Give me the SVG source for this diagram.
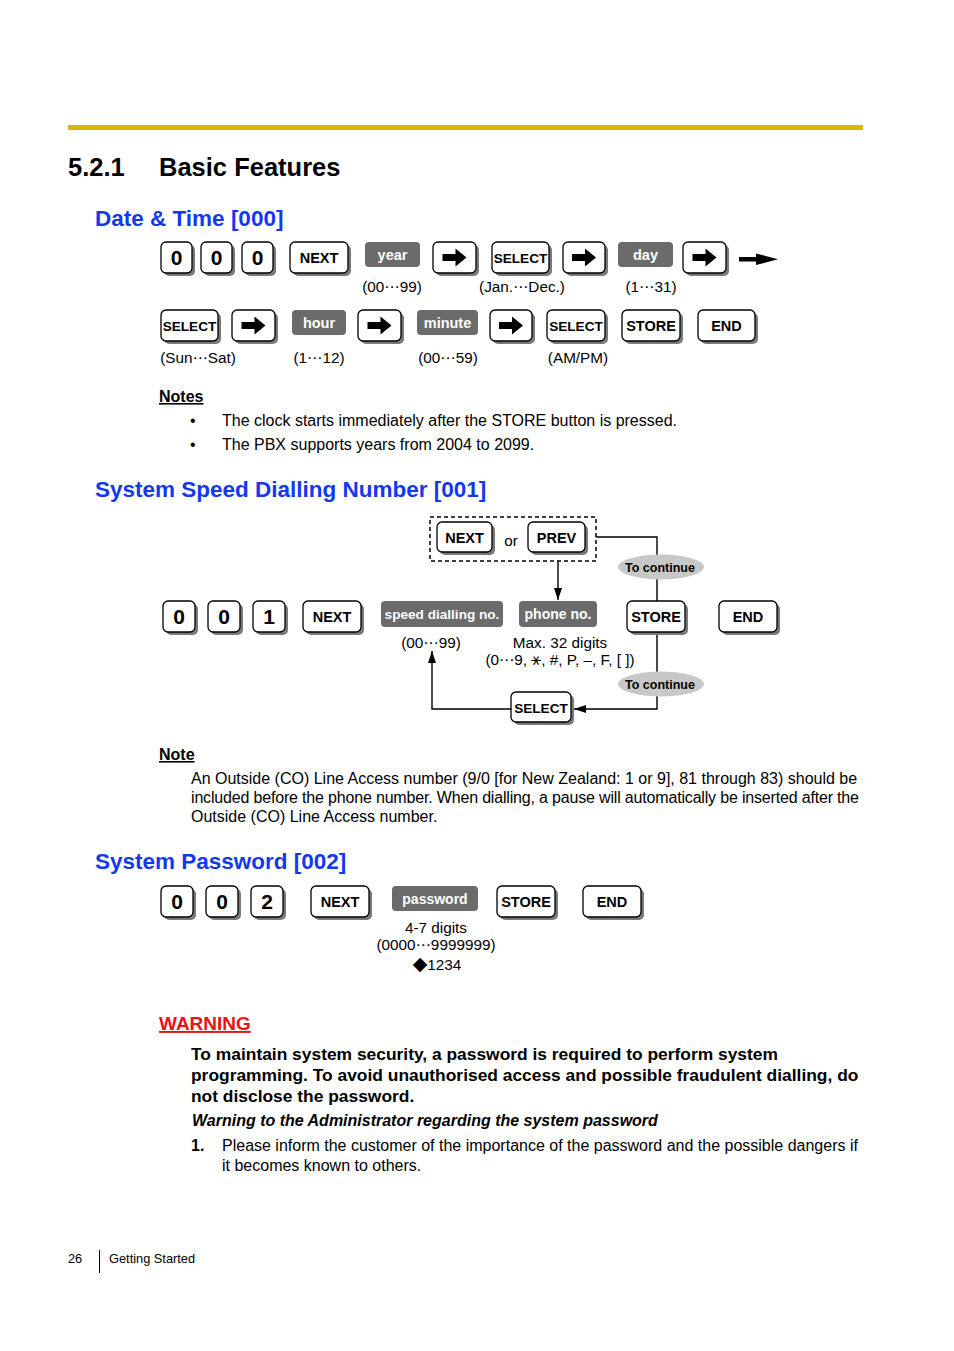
<svg xmlns="http://www.w3.org/2000/svg" width="954" height="1351" viewBox="0 0 954 1351">
<style>
text{font-family:"Liberation Sans",Arial,"DejaVu Sans",sans-serif;fill:#000}
.sh{fill:#7a7a7a}
.kb{fill:#fff;stroke:#000;stroke-width:1.3}
.kt{font-weight:bold;font-size:14.5px;text-anchor:middle}
.ks{font-weight:bold;font-size:13.6px;text-anchor:middle}
.kd{font-weight:bold;font-size:21px;text-anchor:middle}
.gb{fill:#6b6b6b}
.gt{font-weight:bold;font-size:14.5px;fill:#fff;text-anchor:middle}
.lab{font-size:15.3px;text-anchor:middle}
.body{font-size:16px}
.h1{font-weight:bold;font-size:25.5px}
.h2{font-weight:bold;font-size:22.5px;fill:#1238f0}
.ln{fill:none;stroke:#000;stroke-width:1.4}
.el{fill:#c8c8c8}
.et{font-weight:bold;font-size:12.5px;text-anchor:middle}
.wb{font-weight:bold;font-size:17.4px}
</style>
<defs>
<path id="arr" d="M-12,-3.5H1V-9L12,0L1,9V3.5H-12Z" fill="#000"/>
<marker id="ah" viewBox="0 0 12 8" refX="12" refY="4" markerWidth="12" markerHeight="8" markerUnits="userSpaceOnUse" orient="auto"><path d="M0,0L12,4L0,8Z" fill="#000"/></marker>
</defs>

<rect x="68" y="125" width="795" height="5" fill="#dfb400"/>
<text class="h1" x="68" y="176">5.2.1</text>
<text class="h1" x="159" y="176">Basic Features</text>

<text class="h2" x="95" y="226">Date &amp; Time [000]</text>

<g id="dt-row1">
<g id="k-0a"><rect class="sh" x="164" y="245" width="31" height="31" rx="5"/><rect class="kb" x="161" y="242" width="31" height="31" rx="5"/><text class="kd" x="176.5" y="265">0</text></g>
<g id="k-0b"><rect class="sh" x="204" y="245" width="31" height="31" rx="5"/><rect class="kb" x="201" y="242" width="31" height="31" rx="5"/><text class="kd" x="216.5" y="265">0</text></g>
<g id="k-0c"><rect class="sh" x="245" y="245" width="31" height="31" rx="5"/><rect class="kb" x="242" y="242" width="31" height="31" rx="5"/><text class="kd" x="257.5" y="265">0</text></g>
<g id="k-next1"><rect class="sh" x="293" y="245" width="58" height="31" rx="5"/><rect class="kb" x="290" y="242" width="58" height="31" rx="5"/><text class="kt" x="319" y="263">NEXT</text></g>
<g id="b-year"><rect class="gb" x="365" y="242" width="55" height="25" rx="4"/><text class="gt" x="392.5" y="260">year</text></g>
<g id="k-arr1"><rect class="sh" x="436" y="245" width="43" height="31" rx="5"/><rect class="kb" x="433" y="242" width="43" height="31" rx="5"/><use href="#arr" x="454.5" y="257.5"/></g>
<g id="k-sel1"><rect class="sh" x="495" y="245" width="57" height="31" rx="5"/><rect class="kb" x="492" y="242" width="57" height="31" rx="5"/><text class="ks" x="520.5" y="263">SELECT</text></g>
<g id="k-arr2"><rect class="sh" x="566" y="245" width="42" height="31" rx="5"/><rect class="kb" x="563" y="242" width="42" height="31" rx="5"/><use href="#arr" x="584" y="257.5"/></g>
<g id="b-day"><rect class="gb" x="618" y="242" width="55" height="25" rx="4"/><text class="gt" x="645.5" y="260">day</text></g>
<g id="k-arr3"><rect class="sh" x="686" y="245" width="43" height="31" rx="5"/><rect class="kb" x="683" y="242" width="43" height="31" rx="5"/><use href="#arr" x="704.5" y="257.5"/></g>
<g id="cont-arrow"><rect x="739" y="257" width="20" height="4.5" fill="#000"/><path d="M756,253.5L778,259.25L756,265Z" fill="#000"/></g>
<text class="lab" x="392" y="292">(00⋯99)</text>
<text class="lab" x="522" y="292">(Jan.⋯Dec.)</text>
<text class="lab" x="651" y="292">(1⋯31)</text>
</g>

<g id="dt-row2">
<g id="k-sel2"><rect class="sh" x="164" y="313" width="57" height="31" rx="5"/><rect class="kb" x="161" y="310" width="57" height="31" rx="5"/><text class="ks" x="189.5" y="331">SELECT</text></g>
<g id="k-arr4"><rect class="sh" x="235" y="313" width="43" height="31" rx="5"/><rect class="kb" x="232" y="310" width="43" height="31" rx="5"/><use href="#arr" x="253.5" y="325.5"/></g>
<g id="b-hour"><rect class="gb" x="292" y="310" width="54" height="25" rx="4"/><text class="gt" x="319" y="328">hour</text></g>
<g id="k-arr5"><rect class="sh" x="361" y="313" width="43" height="31" rx="5"/><rect class="kb" x="358" y="310" width="43" height="31" rx="5"/><use href="#arr" x="379.5" y="325.5"/></g>
<g id="b-minute"><rect class="gb" x="417" y="310" width="61" height="25" rx="4"/><text class="gt" x="447.5" y="328">minute</text></g>
<g id="k-arr6"><rect class="sh" x="493" y="313" width="42" height="31" rx="5"/><rect class="kb" x="490" y="310" width="42" height="31" rx="5"/><use href="#arr" x="511" y="325.5"/></g>
<g id="k-sel3"><rect class="sh" x="550" y="313" width="58" height="31" rx="5"/><rect class="kb" x="547" y="310" width="58" height="31" rx="5"/><text class="ks" x="576" y="331">SELECT</text></g>
<g id="k-store1"><rect class="sh" x="625" y="313" width="58" height="31" rx="5"/><rect class="kb" x="622" y="310" width="58" height="31" rx="5"/><text class="kt" x="651" y="331">STORE</text></g>
<g id="k-end1"><rect class="sh" x="701" y="313" width="57" height="31" rx="5"/><rect class="kb" x="698" y="310" width="57" height="31" rx="5"/><text class="kt" x="726.5" y="331">END</text></g>
<text class="lab" x="198" y="363">(Sun⋯Sat)</text>
<text class="lab" x="319" y="363">(1⋯12)</text>
<text class="lab" x="448" y="363">(00⋯59)</text>
<text class="lab" x="578" y="363">(AM/PM)</text>
</g>

<text x="159" y="402" font-weight="bold" font-size="16" text-decoration="underline">Notes</text>
<text class="body" x="190" y="426">•</text>
<text class="body" x="222" y="426">The clock starts immediately after the STORE button is pressed.</text>
<text class="body" x="190" y="450">•</text>
<text class="body" x="222" y="450">The PBX supports years from 2004 to 2099.</text>

<text class="h2" x="95" y="497">System Speed Dialling Number [001]</text>

<g id="connectors">
<polyline class="ln" points="596,537 657,537 657,601"/>
<line class="ln" x1="558" y1="561" x2="558" y2="600" marker-end="url(#ah)"/>
<polyline class="ln" points="657,634 657,709 574,709" marker-end="url(#ah)"/>
<polyline class="ln" points="511,709 432,709 432,651" marker-end="url(#ah)"/>
</g>

<g id="sp-choice">
<rect x="430" y="517" width="166" height="44" fill="none" stroke="#000" stroke-width="1.5" stroke-dasharray="4,3"/>
<g id="k-next3"><rect class="sh" x="440" y="525" width="55" height="30" rx="5"/><rect class="kb" x="437" y="522" width="55" height="30" rx="5"/><text class="kt" x="464.5" y="542.5">NEXT</text></g>
<text class="lab" x="511" y="546">or</text>
<g id="k-prev"><rect class="sh" x="531" y="525" width="57" height="30" rx="5"/><rect class="kb" x="528" y="522" width="57" height="30" rx="5"/><text class="kt" x="556.5" y="542.5">PREV</text></g>
</g>

<g id="sp-cont1"><ellipse class="el" cx="661" cy="567" rx="43" ry="12.5"/><text class="et" x="660" y="571.5">To continue</text></g>
<g id="sp-cont2"><ellipse class="el" cx="661" cy="684" rx="43" ry="12.5"/><text class="et" x="660" y="688.5">To continue</text></g>

<g id="sp-row">
<g id="k-0d"><rect class="sh" x="166" y="604" width="32" height="31" rx="5"/><rect class="kb" x="163" y="601" width="32" height="31" rx="5"/><text class="kd" x="179" y="624">0</text></g>
<g id="k-0e"><rect class="sh" x="211" y="604" width="32" height="31" rx="5"/><rect class="kb" x="208" y="601" width="32" height="31" rx="5"/><text class="kd" x="224" y="624">0</text></g>
<g id="k-1"><rect class="sh" x="256" y="604" width="32" height="31" rx="5"/><rect class="kb" x="253" y="601" width="32" height="31" rx="5"/><text class="kd" x="269" y="624">1</text></g>
<g id="k-next2"><rect class="sh" x="306" y="604" width="58" height="31" rx="5"/><rect class="kb" x="303" y="601" width="58" height="31" rx="5"/><text class="kt" x="332" y="622">NEXT</text></g>
<g id="b-speed"><rect class="gb" x="381" y="601" width="122" height="26" rx="4"/><text class="gt" x="442" y="619" style="font-size:13.6px">speed dialling no.</text></g>
<g id="b-phone"><rect class="gb" x="519" y="601" width="78" height="26" rx="4"/><text class="gt" x="558" y="619" style="font-size:14px">phone no.</text></g>
<g id="k-store2"><rect class="sh" x="630" y="604" width="58" height="31" rx="5"/><rect class="kb" x="627" y="601" width="58" height="31" rx="5"/><text class="kt" x="656" y="622">STORE</text></g>
<g id="k-end2"><rect class="sh" x="722" y="604" width="58" height="31" rx="5"/><rect class="kb" x="719" y="601" width="58" height="31" rx="5"/><text class="kt" x="748" y="622">END</text></g>
<text class="lab" x="431" y="648">(00⋯99)</text>
<text class="lab" x="560" y="648">Max. 32 digits</text>
<text class="lab" x="560" y="665">(0⋯9, <tspan font-family="DejaVu Sans" font-size="17">⚹</tspan>, #, P, –, F, [ ])</text>
</g>

<g id="k-sel4"><rect class="sh" x="514" y="695" width="60" height="30" rx="5"/><rect class="kb" x="511" y="692" width="60" height="30" rx="5"/><text class="ks" x="541" y="713">SELECT</text></g>

<text x="159" y="760" font-weight="bold" font-size="16" text-decoration="underline">Note</text>
<text class="body" x="191" y="784">An Outside (CO) Line Access number (9/0 [for New Zealand: 1 or 9], 81 through 83) should be</text>
<text class="body" x="191" y="803" textLength="668" lengthAdjust="spacing">included before the phone number. When dialling, a pause will automatically be inserted after the</text>
<text class="body" x="191" y="822">Outside (CO) Line Access number.</text>

<text class="h2" x="95" y="869">System Password [002]</text>

<g id="pw-row">
<g id="k-0f"><rect class="sh" x="164" y="889" width="32" height="31" rx="5"/><rect class="kb" x="161" y="886" width="32" height="31" rx="5"/><text class="kd" x="177" y="909">0</text></g>
<g id="k-0g"><rect class="sh" x="209" y="889" width="32" height="31" rx="5"/><rect class="kb" x="206" y="886" width="32" height="31" rx="5"/><text class="kd" x="222" y="909">0</text></g>
<g id="k-2"><rect class="sh" x="254" y="889" width="32" height="31" rx="5"/><rect class="kb" x="251" y="886" width="32" height="31" rx="5"/><text class="kd" x="267" y="909">2</text></g>
<g id="k-next4"><rect class="sh" x="314" y="889" width="58" height="31" rx="5"/><rect class="kb" x="311" y="886" width="58" height="31" rx="5"/><text class="kt" x="340" y="907">NEXT</text></g>
<g id="b-password"><rect class="gb" x="392" y="886" width="86" height="25" rx="4"/><text class="gt" x="435" y="904" style="font-size:14px">password</text></g>
<g id="k-store3"><rect class="sh" x="500" y="889" width="58" height="31" rx="5"/><rect class="kb" x="497" y="886" width="58" height="31" rx="5"/><text class="kt" x="526" y="907">STORE</text></g>
<g id="k-end3"><rect class="sh" x="586" y="889" width="58" height="31" rx="5"/><rect class="kb" x="583" y="886" width="58" height="31" rx="5"/><text class="kt" x="612" y="907">END</text></g>
<text class="lab" x="436" y="933">4-7 digits</text>
<text class="lab" x="436" y="950">(0000⋯9999999)</text>
<text class="lab" x="437" y="970"><tspan font-family="DejaVu Sans" font-size="19">◆</tspan>1234</text>
</g>

<text x="159" y="1030" font-weight="bold" font-size="19" style="fill:#ee1111" text-decoration="underline">WARNING</text>
<text class="wb" x="191" y="1060">To maintain system security, a password is required to perform system</text>
<text class="wb" x="191" y="1081">programming. To avoid unauthorised access and possible fraudulent dialling, do</text>
<text class="wb" x="191" y="1102">not disclose the password.</text>
<text x="192" y="1126" font-weight="bold" font-style="italic" font-size="16">Warning to the Administrator regarding the system password</text>
<text x="191" y="1151" font-weight="bold" font-size="16">1.</text>
<text class="body" x="222" y="1151">Please inform the customer of the importance of the password and the possible dangers if</text>
<text class="body" x="222" y="1171">it becomes known to others.</text>

<text x="68" y="1263" font-size="12.8">26</text>
<line x1="99.5" y1="1250" x2="99.5" y2="1273" stroke="#000" stroke-width="1"/>
<text x="109" y="1263" font-size="12.8">Getting Started</text>
</svg>
